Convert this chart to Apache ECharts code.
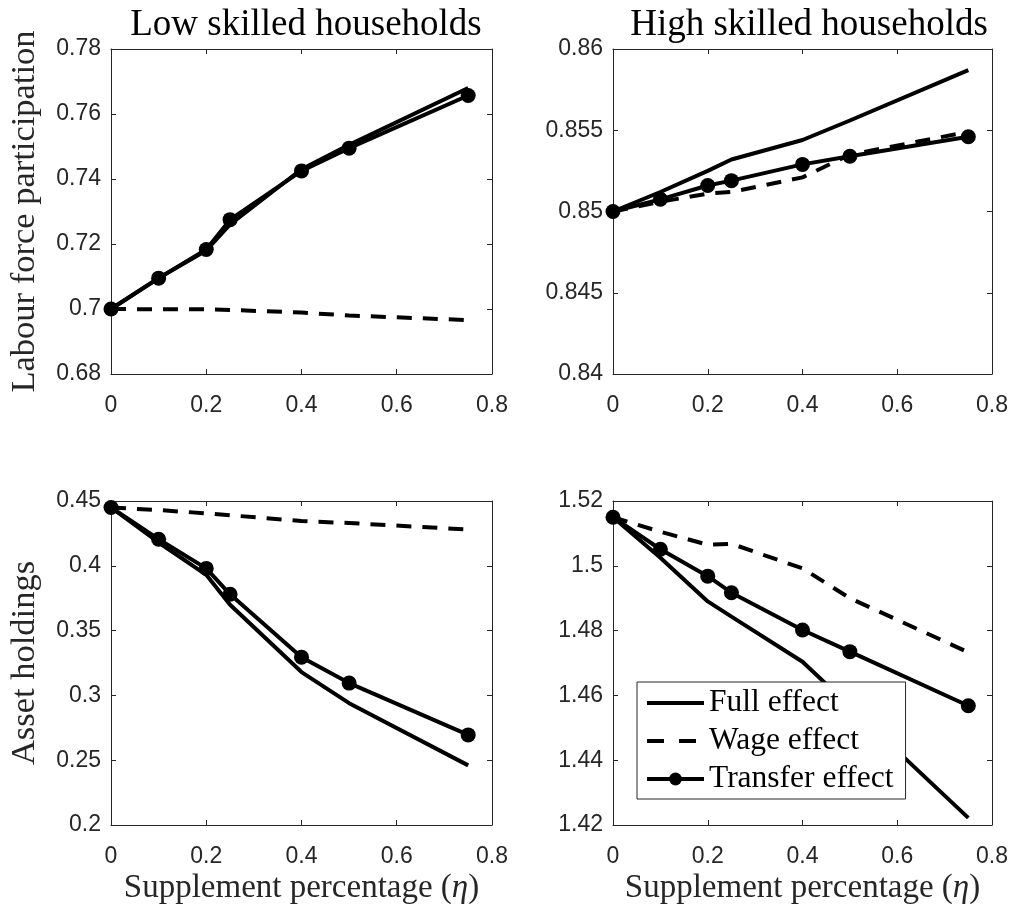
<!DOCTYPE html>
<html>
<head>
<meta charset="utf-8">
<script src="https://cdn.jsdelivr.net/npm/echarts@6/dist/echarts.min.js"></script>
<style>html,body{margin:0;padding:0;background:#fff;}#chart{width:1016px;height:909px;}</style>
</head>
<body>
<div id="chart"></div>
<script>
// ---- data ----
const eta = [0, 0.1, 0.2, 0.25, 0.4, 0.5, 0.75];
const xTicks = [0, 0.2, 0.4, 0.6, 0.8];
const panelTitles = ['Low skilled households', 'High skilled households'];
const seriesNames = ['Full effect', 'Wage effect', 'Transfer effect'];

const lowLfpFull     = [0.700, 0.7095, 0.7180, 0.7260, 0.7430, 0.7505, 0.7680];
const lowLfpWage     = [0.700, 0.6999, 0.6999, 0.6997, 0.6989, 0.6980, 0.6966];
const lowLfpTransfer = [0.700, 0.7095, 0.7183, 0.7275, 0.7425, 0.7495, 0.7657];

const highLfpFull     = [0.8500, 0.8512, 0.8525, 0.8532, 0.8544, 0.8556, 0.8587];
const highLfpWage     = [0.8500, 0.8506, 0.8511, 0.8512, 0.8521, 0.8535, 0.8549];
const highLfpTransfer = [0.8500, 0.85075, 0.8516, 0.8519, 0.8529, 0.8534, 0.8546];

const lowAssetFull     = [0.445, 0.418, 0.393, 0.370, 0.318, 0.294, 0.246];
const lowAssetWage     = [0.445, 0.443, 0.4405, 0.439, 0.4345, 0.433, 0.428];
const lowAssetTransfer = [0.445, 0.4205, 0.398, 0.378, 0.3295, 0.3095, 0.2695];

const highAssetFull     = [1.515, 1.5025, 1.489, 1.4843, 1.4704, 1.4566, 1.4222];
const highAssetWage     = [1.515, 1.5105, 1.5065, 1.5068, 1.4992, 1.4900, 1.4733];
const highAssetTransfer = [1.515, 1.5051, 1.4968, 1.4917, 1.4802, 1.4735, 1.4568];

// y axis ranges [min, max, interval]
const yRanges = [
  [0.68, 0.78, 0.02],
  [0.84, 0.86, 0.005],
  [0.20, 0.45, 0.05],
  [1.42, 1.52, 0.02]
];
const panelData = [
  [lowLfpFull, lowLfpWage, lowLfpTransfer],
  [highLfpFull, highLfpWage, highLfpTransfer],
  [lowAssetFull, lowAssetWage, lowAssetTransfer],
  [highAssetFull, highAssetWage, highAssetTransfer]
];
const yNames = ['Labour force participation', '', 'Asset holdings', ''];

// ---- layout ----
const grids = [
  {left: 111, top: 49, width: 381, height: 325},
  {left: 613, top: 49, width: 379, height: 325},
  {left: 111, top: 501, width: 381, height: 324},
  {left: 613, top: 501, width: 379, height: 324}
];
const AX = '#262626';
const SERIF = '"Liberation Serif", "DejaVu Serif", serif';
const SANS = '"Liberation Sans", Arial, sans-serif';
const fmt = v => String(parseFloat(v.toFixed(5)));

const xAxes = [], yAxes = [], series = [];
grids.forEach((g, i) => {
  const bottomRow = i >= 2;
  const common = {
    gridIndex: i, type: 'value', min: 0, max: 0.8, interval: 0.2,
    axisLine: {show: true, onZero: false, lineStyle: {color: AX, width: 1}},
    axisTick: {show: true, inside: true, length: 5, lineStyle: {color: AX, width: 1}},
    splitLine: {show: false}
  };
  xAxes.push(Object.assign({}, common, {
    position: 'bottom',
    axisLabel: {show: true, margin: 20, fontSize: 23, fontFamily: SANS, color: AX, formatter: fmt},
    name: bottomRow ? 'Supplement percentage ({i|η})' : '',
    nameLocation: 'middle', nameGap: 47,
    nameTextStyle: {fontSize: 33, fontFamily: SERIF, color: AX,
      rich: {i: {fontSize: 33, fontFamily: SERIF, fontStyle: 'italic', color: AX}}}
  }));
  xAxes.push(Object.assign({}, common, {position: 'top', axisLabel: {show: false}}));
  const r = yRanges[i];
  const ycommon = {
    gridIndex: i, type: 'value', min: r[0], max: r[1], interval: r[2],
    axisLine: {show: true, onZero: false, lineStyle: {color: AX, width: 1}},
    axisTick: {show: true, inside: true, length: 5, lineStyle: {color: AX, width: 1}},
    splitLine: {show: false}
  };
  yAxes.push(Object.assign({}, ycommon, {
    position: 'left',
    axisLabel: {show: true, margin: 10, fontSize: 23, fontFamily: SANS, color: AX, formatter: fmt},
    name: yNames[i], nameLocation: 'middle', nameGap: 69, nameRotate: 90,
    nameTextStyle: {fontSize: 34.5, fontFamily: SERIF, color: AX}
  }));
  yAxes.push(Object.assign({}, ycommon, {position: 'right', axisLabel: {show: false}}));

  const d = panelData[i];
  const pts = arr => eta.map((x, k) => [x, arr[k]]);
  series.push({
    name: seriesNames[0], type: 'line', xAxisIndex: 2 * i, yAxisIndex: 2 * i,
    data: pts(d[0]), symbol: 'none', lineStyle: {color: '#000', width: 4},
    itemStyle: {color: '#000'}, z: 2
  });
  series.push({
    name: seriesNames[1], type: 'line', xAxisIndex: 2 * i, yAxisIndex: 2 * i,
    data: pts(d[1]), symbol: 'none', lineStyle: {color: '#000', width: 4, type: [15, 11]},
    itemStyle: {color: '#000'}, z: 3
  });
  series.push({
    name: seriesNames[2], type: 'line', xAxisIndex: 2 * i, yAxisIndex: 2 * i,
    data: pts(d[2]), symbol: 'circle', symbolSize: 15, showSymbol: true,
    lineStyle: {color: '#000', width: 4}, itemStyle: {color: '#000'}, z: 4
  });
});

const chart = echarts.init(document.getElementById('chart'), null, {renderer: 'canvas'});
chart.setOption({
  animation: false,
  backgroundColor: '#fff',
  title: [
    {text: panelTitles[0], left: 301, top: 2, textAlign: 'center',
     textStyle: {fontSize: 37, fontWeight: 'normal', fontFamily: SERIF, color: '#000'}},
    {text: panelTitles[1], left: 804, top: 2, textAlign: 'center',
     textStyle: {fontSize: 37, fontWeight: 'normal', fontFamily: SERIF, color: '#000'}}
  ],
  legend: {
    data: [
      {name: seriesNames[0], itemStyle: {opacity: 0}},
      {name: seriesNames[1], itemStyle: {opacity: 0}, lineStyle: {type: [17, 15]}},
      {name: seriesNames[2]}
    ],
    orient: 'vertical',
    left: 637, top: 682,
    padding: [5, 12, 4, 8],
    itemWidth: 57, itemHeight: 16, itemGap: 6,
    lineStyle: {width: 4},
    backgroundColor: '#fff', borderColor: AX, borderWidth: 1,
    selectedMode: false,
    textStyle: {fontSize: 31.5, fontFamily: SERIF, color: '#000', lineHeight: 31}
  },
  grid: grids,
  xAxis: xAxes,
  yAxis: yAxes,
  series: series
});
</script>
</body>
</html>
